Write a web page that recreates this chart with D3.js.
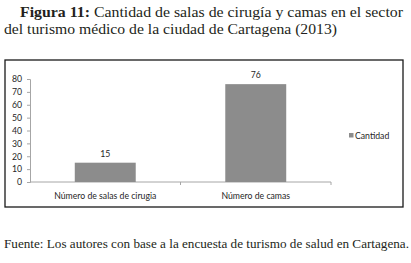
<!DOCTYPE html>
<html>
<head>
<meta charset="utf-8">
<script src="https://cdn.jsdelivr.net/npm/d3@7"></script>
<style>
  body { margin: 0; background: #fff; }
  svg { display: block; }
</style>
</head>
<body>
<svg id="chart"></svg>
<script>
var categories = ["Número de salas de cirugia", "Número de camas"]
var values = [15, 76]
var yTicks = [0, 10, 20, 30, 40, 50, 60, 70, 80]
var seriesName = "Cantidad"

var dimensions = {
    width: 411,
    height: 263,
    margin: { top: 79, bottom: 81, left: 30, right: 80 }
}

var svg = d3.select("#chart")
            .attr("width", dimensions.width)
            .attr("height", dimensions.height)

var serif = "'Liberation Serif', 'DejaVu Serif', serif"
var sans = "Lato, 'Open Sans', sans-serif"
var sansSize = "8.7px"

// title
var t1 = svg.append("text")
            .attr("x", 20).attr("y", 17)
            .style("font-family", serif).style("font-size", "15.5px").attr("fill", "#231f20")
            .attr("textLength", 383).attr("lengthAdjust", "spacingAndGlyphs")
t1.append("tspan").style("font-weight", "bold").text("Figura 11:")
t1.append("tspan").text(" Cantidad de salas de cirugía y camas en el sector")

svg.append("text")
   .attr("x", 4).attr("y", 34)
   .style("font-family", serif).style("font-size", "15.5px").attr("fill", "#231f20")
   .attr("textLength", 333).attr("lengthAdjust", "spacingAndGlyphs")
   .text("del turismo médico de la ciudad de Cartagena (2013)")

// frame
svg.append("rect")
   .attr("x", 5).attr("y", 60).attr("width", 398).attr("height", 147)
   .attr("fill", "none").attr("stroke", "#1a1a1a").attr("stroke-width", 1.3)

var xScale = d3.scaleBand()
               .domain(categories)
               .range([dimensions.margin.left, dimensions.width - dimensions.margin.right])
               .padding(0)

var yScale = d3.scaleLinear()
               .domain([0, 80])
               .range([dimensions.height - 81, dimensions.margin.top])

var yAxisgen = d3.axisLeft().scale(yScale).tickValues(yTicks).tickSize(3).tickPadding(5)

var yAxis = svg.append("g")
               .call(yAxisgen)
               .attr("transform", `translate(${dimensions.margin.left},0)`)
yAxis.selectAll("path, line").attr("stroke", "#a6a6a6")
yAxis.selectAll("text").style("font-family", sans).style("font-size", sansSize).attr("fill", "#262626")

var baseY = yScale(0)
var xAxisgen = d3.axisBottom().scale(xScale).tickSize(0).tickPadding(11)
var xAxis = svg.append("g")
               .call(xAxisgen)
               .attr("transform", `translate(0,${baseY})`)
xAxis.select(".domain").attr("stroke", "#a6a6a6").attr("d", `M${xScale.range()[0]},0H${xScale.range()[1]}`)
xAxis.selectAll("text").style("font-family", sans).style("font-size", sansSize).attr("fill", "#262626")

// boundary ticks
var bounds = categories.map(c => xScale(c) + xScale.bandwidth())
svg.selectAll(".btick").data(bounds).enter().append("line")
   .attr("x1", d => d).attr("x2", d => d)
   .attr("y1", baseY).attr("y2", baseY + 3)
   .attr("stroke", "#a6a6a6")

var bw = xScale.bandwidth() * 0.405
var bars = svg.selectAll(".bar")
              .data(values)
              .enter()
              .append("rect")
              .attr("x", (d, i) => xScale(categories[i]) + xScale.bandwidth() / 2 - bw / 2)
              .attr("y", d => yScale(d))
              .attr("width", bw)
              .attr("height", d => baseY - yScale(d))
              .attr("fill", "#8c8c8c")

svg.selectAll(".val")
   .data(values)
   .enter()
   .append("text")
   .attr("x", (d, i) => xScale(categories[i]) + xScale.bandwidth() / 2)
   .attr("y", d => yScale(d) - 6)
   .attr("text-anchor", "middle")
   .style("font-family", sans).style("font-size", sansSize).attr("fill", "#262626")
   .text(d => d)

// legend
svg.append("rect").attr("x", 349).attr("y", 133).attr("width", 4.5).attr("height", 4.5).attr("fill", "#8c8c8c")
svg.append("text").attr("x", 355).attr("y", 138.5)
   .style("font-family", sans).style("font-size", sansSize).attr("fill", "#262626")
   .text(seriesName)

// source
svg.append("text")
   .attr("x", 4).attr("y", 248)
   .style("font-family", serif).style("font-size", "12.5px").attr("fill", "#231f20")
   .attr("textLength", 405).attr("lengthAdjust", "spacingAndGlyphs")
   .text("Fuente: Los autores con base a la encuesta de turismo de salud en Cartagena.")
</script>
</body>
</html>
